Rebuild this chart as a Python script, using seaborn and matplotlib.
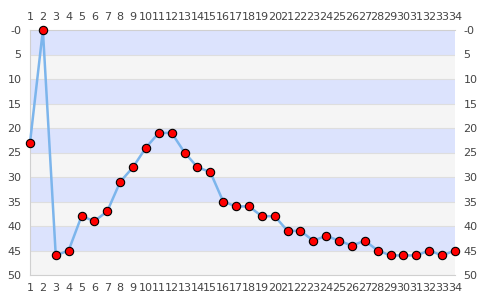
import matplotlib
matplotlib.use("Agg")
import matplotlib.pyplot as plt
import seaborn as sns
import pandas as pd

x_vals = list(range(1, 35))
y_vals = [23, 0, 46, 45, 38, 39, 37, 31, 28, 24, 21, 21, 25, 28, 29, 35, 36, 36, 38, 38,
          41, 41, 43, 42, 43, 44, 43, 45, 46, 46, 46, 45, 46, 45]
y_ticks = [0, 5, 10, 15, 20, 25, 30, 35, 40, 45, 50]
y_tick_labels = ["-0", "5", "10", "15", "20", "25", "30", "35", "40", "45", "50"]

sns.set_style("white")
plt.rcParams['font.family'] = ['DejaVu Sans']

fig = plt.figure(figsize=(4.85, 3.0), dpi=100)
ax = fig.add_axes([30/485, 25/300, 425/485, 245/300])

df = pd.DataFrame({"x": x_vals, "y": y_vals})

# bands
for i in range(10):
    ax.axhspan(i * 5, (i + 1) * 5, color="#dce3fd" if i % 2 == 0 else "#f5f5f5", zorder=0, lw=0)
for t in y_ticks[1:-1]:
    ax.axhline(t, color="#dedede", lw=0.8, zorder=0.5)

sns.lineplot(data=df, x="x", y="y", ax=ax, color="#7cb5ec", lw=1.8, marker="o",
             markersize=6, markerfacecolor="#ff0000", markeredgecolor="#000000",
             markeredgewidth=0.8, zorder=3, clip_on=False)

ax.set_xlim(1, 34)
ax.set_ylim(50, 0)
ax.set_xticks(x_vals)
ax.set_xticklabels([str(v) for v in x_vals])
ax.set_yticks(y_ticks)
ax.set_yticklabels(y_tick_labels)
ax.tick_params(axis="x", top=True, labeltop=True, bottom=True, labelbottom=True,
               length=0, pad=6, labelsize=8, colors="#444444")
ax.tick_params(axis="y", left=True, labelleft=True, right=True, labelright=True,
               length=0, pad=6, labelsize=8, colors="#444444")
ax.set_xlabel("")
ax.set_ylabel("")
for side in ["left", "bottom", "top"]:
    ax.spines[side].set_color("#d0d0d0")
    ax.spines[side].set_linewidth(0.8)
ax.spines["right"].set_visible(False)

fig.savefig("out.png", dpi=100)
